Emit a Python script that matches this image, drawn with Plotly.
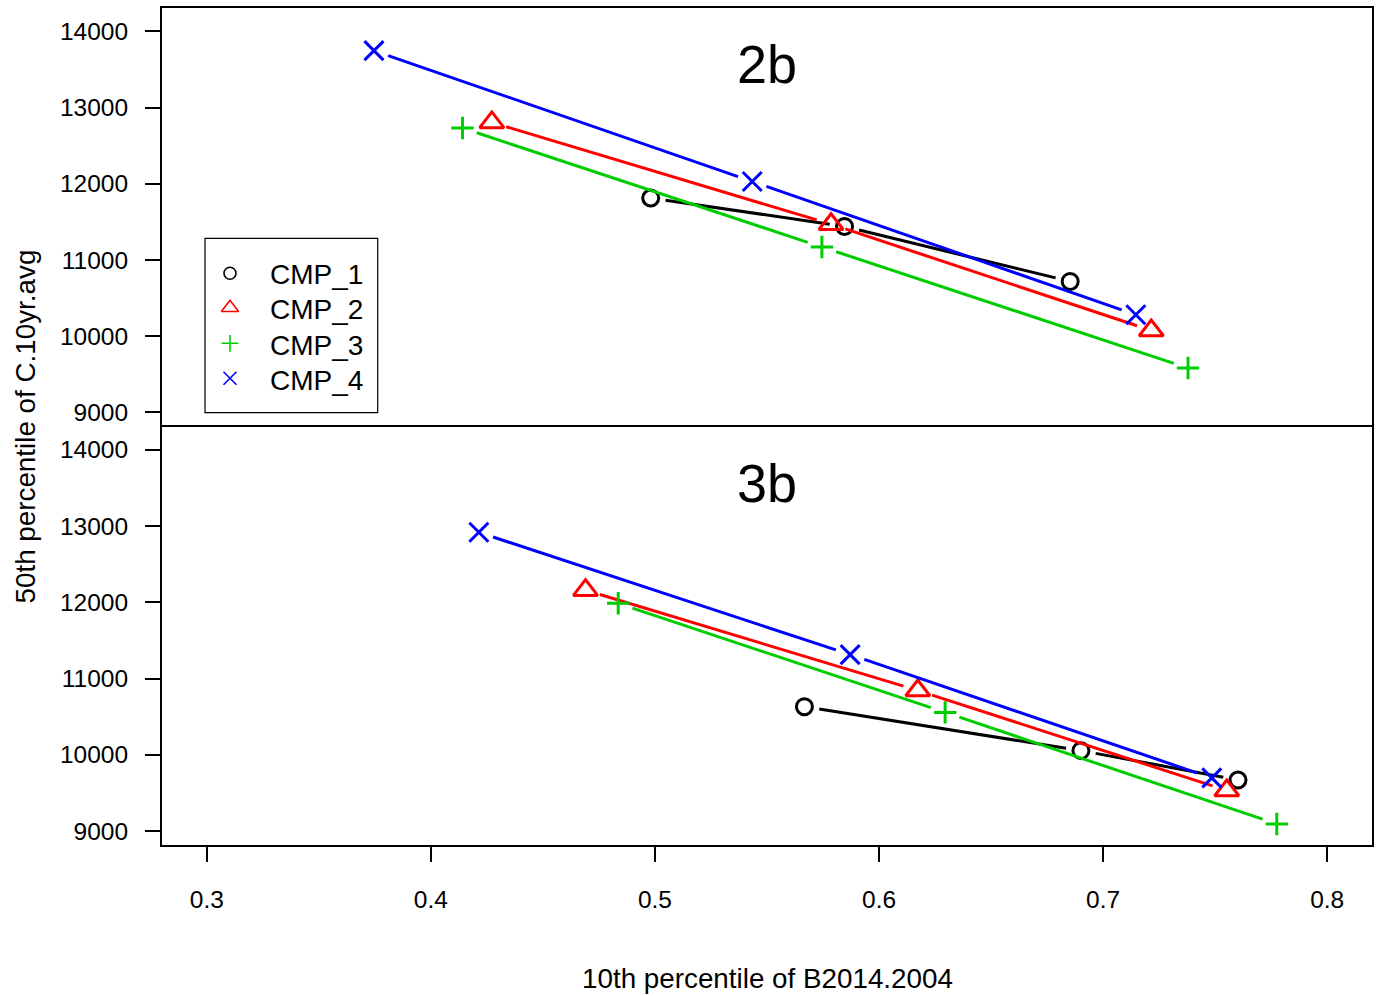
import math
import plotly.graph_objects as go

# ---------------- data ----------------
series_names = ["CMP_1", "CMP_2", "CMP_3", "CMP_4"]

x_2b_cmp1 = [0.4981, 0.5846, 0.6853]
y_2b_cmp1 = [11814, 11441, 10719]
x_2b_cmp2 = [0.4272, 0.5786, 0.7215]
y_2b_cmp2 = [12806, 11470, 10076]
x_2b_cmp3 = [0.4141, 0.5745, 0.7379]
y_2b_cmp3 = [12732, 11171, 9583]
x_2b_cmp4 = [0.3746, 0.5434, 0.7146]
y_2b_cmp4 = [13747, 12031, 10282]

x_3b_cmp1 = [0.5667, 0.6901, 0.7602]
y_3b_cmp1 = [10631, 10054, 9669]
x_3b_cmp2 = [0.4690, 0.6173, 0.7552]
y_3b_cmp2 = [12160, 10843, 9531]
x_3b_cmp3 = [0.4836, 0.6295, 0.7775]
y_3b_cmp3 = [11987, 10556, 9092]
x_3b_cmp4 = [0.4214, 0.5871, 0.7485]
y_3b_cmp4 = [12919, 11314, 9696]

x_ticks = [0.3, 0.4, 0.5, 0.6, 0.7, 0.8]
y_ticks = [9000, 10000, 11000, 12000, 13000, 14000]
panel_titles = ["2b", "3b"]
x_title = "10th percentile of B2014.2004"
y_title = "50th percentile of C.10yr.avg"

# ---------------- style ----------------
colors = ["#000000", "#FF0000", "#00CD00", "#0000FF"]
symbols = ["circle-open", "triangle-up-open", "cross-thin-open", "x-thin-open"]
msizes = [16, 21, 16, 19]
leg_sizes = [12, 15, 12, 13]
FONT = "Liberation Sans, Arial, sans-serif"

W, H = 1384, 996
ML, MR, MT, MB = 162, 12, 8, 151
PLOT_W = W - ML - MR
PLOT_H = H - MT - MB
PANEL_H = PLOT_H / 2
XR = [0.28, 0.82]
YR = [8816, 14307]
KX = PLOT_W / (XR[1] - XR[0])
KY = PANEL_H / (YR[1] - YR[0])
GAP = 15  # px gap around points (R type="b")


def gapped(xs, ys):
    gx, gy = [], []
    for i in range(len(xs) - 1):
        dx = (xs[i + 1] - xs[i]) * KX
        dy = (ys[i + 1] - ys[i]) * KY
        L = math.hypot(dx, dy)
        if L <= 2 * GAP:
            continue
        f = GAP / L
        gx += [xs[i] + (xs[i + 1] - xs[i]) * f, xs[i + 1] - (xs[i + 1] - xs[i]) * f, None]
        gy += [ys[i] + (ys[i + 1] - ys[i]) * f, ys[i + 1] - (ys[i + 1] - ys[i]) * f, None]
    return gx, gy


panels = [
    ("x2", "y2", [(x_2b_cmp1, y_2b_cmp1), (x_2b_cmp2, y_2b_cmp2), (x_2b_cmp3, y_2b_cmp3), (x_2b_cmp4, y_2b_cmp4)]),
    ("x", "y", [(x_3b_cmp1, y_3b_cmp1), (x_3b_cmp2, y_3b_cmp2), (x_3b_cmp3, y_3b_cmp3), (x_3b_cmp4, y_3b_cmp4)]),
]

fig = go.Figure()
for xa, ya, data in panels:
    for i, (xs, ys) in enumerate(data):
        gx, gy = gapped(xs, ys)
        fig.add_trace(go.Scatter(x=gx, y=gy, mode="lines", xaxis=xa, yaxis=ya,
                                 line=dict(color=colors[i], width=3), showlegend=False,
                                 hoverinfo="skip"))
        fig.add_trace(go.Scatter(x=xs, y=ys, mode="markers", xaxis=xa, yaxis=ya,
                                 name=series_names[i], showlegend=False,
                                 marker=dict(symbol=symbols[i], size=msizes[i],
                                             color=colors[i],
                                             line=dict(color=colors[i], width=3))))

# ---------------- manual legend (pixel overlay axis) ----------------
leg_box = [205, 238.3, 377.7, 412.7]
leg_sym_x = 230
leg_rows = [274, 309.5, 345, 380.5]
leg_sym_y = [273.3, 307.8, 343.3, 378.3]
leg_text_x = 268
for i in range(4):
    fig.add_trace(go.Scatter(x=[leg_sym_x], y=[leg_sym_y[i]], mode="markers",
                             xaxis="x3", yaxis="y3", showlegend=False, hoverinfo="skip",
                             marker=dict(symbol=symbols[i], size=leg_sizes[i], color=colors[i],
                                         line=dict(color=colors[i], width=1.6))))

fig.add_shape(type="rect", xref="x3", yref="y3", x0=leg_box[0], x1=leg_box[2],
              y0=leg_box[1], y1=leg_box[3], line=dict(color="black", width=1.2),
              fillcolor="rgba(0,0,0,0)", layer="above")

annotations = []
for i in range(4):
    annotations.append(dict(x=leg_text_x, y=leg_rows[i], xref="x3", yref="y3",
                            text=series_names[i], showarrow=False, xanchor="left",
                            yanchor="middle", font=dict(size=28, color="black", family=FONT)))

# panel titles
annotations.append(dict(x=0.5, y=1 - (64 - MT) / PLOT_H, xref="paper", yref="paper",
                        text=panel_titles[0], showarrow=False, xanchor="center", yanchor="middle",
                        font=dict(size=54, color="black", family=FONT)))
annotations.append(dict(x=0.5, y=1 - (483 - MT) / PLOT_H, xref="paper", yref="paper",
                        text=panel_titles[1], showarrow=False, xanchor="center", yanchor="middle",
                        font=dict(size=54, color="black", family=FONT)))
# axis titles
annotations.append(dict(x=(767 - ML) / PLOT_W, y=1 - (978 - MT) / PLOT_H, xref="paper",
                        yref="paper", text=x_title, showarrow=False, xanchor="center",
                        yanchor="middle", font=dict(size=27.8, color="black", family=FONT)))
annotations.append(dict(x=(25 - ML) / PLOT_W, y=0.5, xref="paper", yref="paper",
                        text=y_title, showarrow=False, xanchor="center", yanchor="middle",
                        textangle=-90, font=dict(size=27.8, color="black", family=FONT)))

axis_common = dict(showgrid=False, zeroline=False, showline=True, mirror=True,
                   linecolor="black", linewidth=2, tickcolor="black", tickwidth=2,
                   tickfont=dict(size=24.5, color="black", family=FONT))
axis_top_only = dict(axis_common)
axis_top_only["mirror"] = False

fig.update_layout(
    width=W, height=H,
    margin=dict(l=ML, r=MR, t=MT, b=MB, pad=0),
    paper_bgcolor="white", plot_bgcolor="rgba(0,0,0,0)",
    showlegend=False,
    annotations=annotations,
    xaxis=dict(domain=[0, 1], anchor="y", range=XR, tickvals=x_ticks,
               ticktext=[f"{v:.1f}" for v in x_ticks], ticks="outside", ticklen=15,
               ticklabelstandoff=17, **axis_common),
    yaxis=dict(domain=[0, 0.5], anchor="x", range=YR, tickvals=y_ticks,
               ticktext=[str(v) for v in y_ticks], ticks="outside", ticklen=15,
               ticklabelstandoff=12, **axis_common),
    xaxis2=dict(domain=[0, 1], anchor="y2", range=XR, matches="x", ticks="", side="top",
                showticklabels=False, **axis_top_only),
    yaxis2=dict(domain=[0.5, 1], anchor="x2", range=YR, tickvals=y_ticks,
                ticktext=[str(v) for v in y_ticks], ticks="outside", ticklen=15,
                ticklabelstandoff=12, **axis_common),
    xaxis3=dict(domain=[0, 1], anchor="y3", range=[ML, W - MR], visible=False, fixedrange=True),
    yaxis3=dict(domain=[0, 1], anchor="x3", range=[H - MB, MT], visible=False, fixedrange=True),
    font=dict(family=FONT, color="black"),
)

fig.write_html("out.html")
